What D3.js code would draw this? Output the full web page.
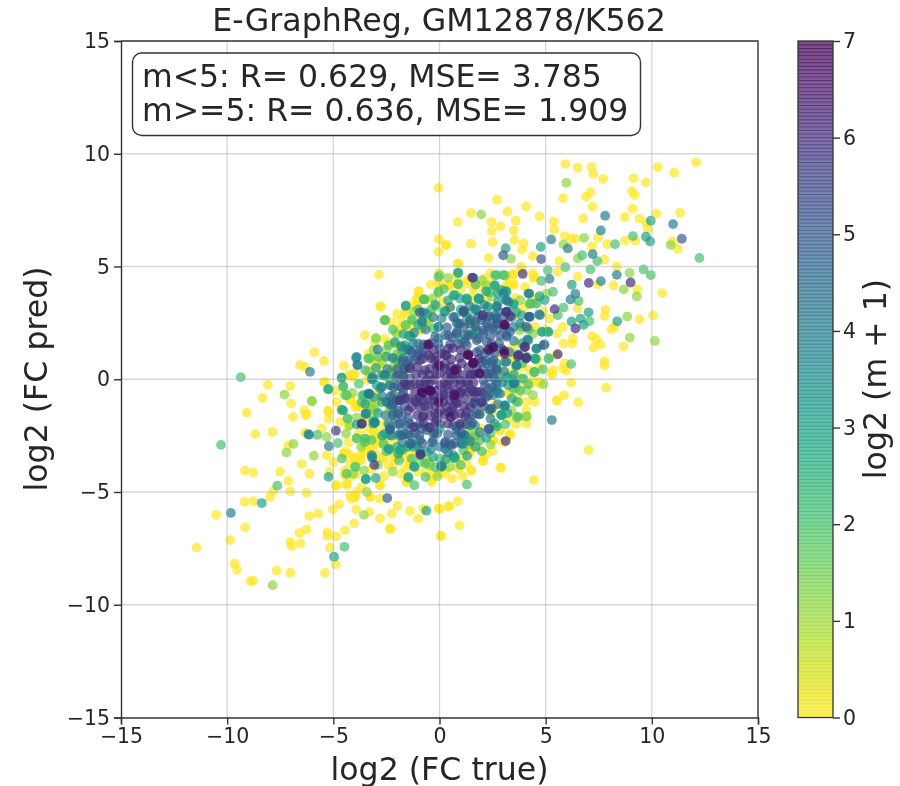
<!DOCTYPE html>
<html>
<head>
<meta charset="utf-8">
<script src="https://cdn.jsdelivr.net/npm/d3@7/dist/d3.min.js"></script>
<style>
  html, body { margin: 0; padding: 0; background: #fff; }
  svg { display: block; filter: blur(0.4px); }
  text { font-family: 'DejaVu Sans', sans-serif; fill: #262626; }
</style>
</head>
<body>
<svg id="scattersvg" width="900" height="786"></svg>
<script>
const chartTitle = 'E-GraphReg, GM12878/K562';
const xLabel = 'log2 (FC true)';
const yLabel = 'log2 (FC pred)';
const colorLabel = 'log2 (m + 1)';
const statLines = ['m<5: R= 0.629, MSE= 3.785', 'm>=5: R= 0.636, MSE= 1.909'];
const axisTicks = [-15, -10, -5, 0, 5, 10, 15];
const colorTicks = [0, 1, 2, 3, 4, 5, 6, 7];

// log2(m + 1) of each group of points below
const levels = [0, 1.2, 2, 3, 4, 5, 6, 6.8];

// [log2 FC true, log2 FC pred]
const pts0 = [
  [5.92,9.54],[6.51,9.38],[7.16,9.41],[7.24,9.11],[7.71,8.88],[9.14,8.91],[9.72,8.73],[10.28,9.41],[11.05,9.16],[12.09,9.62],
  [5.82,8.03],[6.91,8.09],[7.10,8.30],[9.06,8.34],[9.20,8.17],[7.21,7.65],[9.09,7.57],[8.73,7.19],[6.77,7.13],[10.22,7.34],
  [11.33,7.38],[9.42,7.12],[9.76,6.91],[9.81,6.67],[2.70,7.96],[3.20,7.44],[4.08,7.66],[1.48,7.37],[0.86,6.98],[2.45,6.97],
  [2.87,6.78],[2.46,6.57],[3.59,7.03],[3.49,6.60],[4.71,7.23],[5.38,7.00],[5.40,6.64],[1.48,6.01],[0.31,5.95],[2.50,6.09],
  [3.53,6.17],[3.96,6.02],[3.89,5.75],[2.32,5.38],[4.40,5.46],[5.65,5.24],[6.20,6.23],[6.39,6.24],[5.89,6.35],[7.46,6.27],
  [7.90,5.98],[8.74,6.15],[9.22,6.14],[10.96,6.11],[11.22,5.78],[7.19,5.89],[7.77,5.31],[0.86,5.13],[8.35,5.00],[8.19,4.17],
  [7.46,4.20],[9.31,3.99],[10.49,3.82],[10.05,2.83],[9.42,2.66],[8.10,2.22],[8.24,2.32],[7.77,2.80],[7.82,3.09],[8.67,1.45],
  [7.25,1.41],[7.57,1.54],[7.77,0.80],[7.77,0.61],[7.19,1.91],[7.38,1.78],[6.28,1.80],[6.25,1.58],[5.84,1.58],[5.53,2.03],
  [5.18,2.69],[5.81,2.32],[6.51,3.14],[6.51,4.54],[5.57,4.76],[4.40,4.69],[3.85,4.99],[4.47,4.54],[3.45,4.66],[3.30,4.25],
  [1.73,4.22],[1.33,4.39],[0.86,4.32],[0.47,4.13],[5.34,0.40],[5.89,0.70],[5.49,1.07],[5.81,0.47],
  [6.20,-0.16],[7.85,-0.37],[5.87,-0.71],[5.53,-0.96],[6.53,-1.02],[7.02,-3.14],[4.44,-4.47],[2.86,-3.92],[2.04,-3.62],[1.49,-4.07],
  [0.86,-3.92],[1.41,-3.27],[2.51,-2.74],[3.30,-2.49],[2.83,-2.29],[3.22,-1.79],[4.08,-1.41],[3.25,-0.61],[0.86,-5.41],[0.47,-5.64],
  [0.00,-5.74],[0.94,-6.48],[0.08,-6.95],[5.31,0.22],[5.97,0.37],[1.57,-2.63],[1.49,-2.93],[1.10,-3.45],[0.31,-3.52],[1.96,-2.19],
  [2.43,-1.52],[2.90,0.18],[3.61,0.22],[3.38,0.33],[4.71,-0.19],[4.40,-0.04],
  [-8.09,-0.25],[-7.03,-0.30],[-8.33,-0.83],[-6.99,-1.08],[-9.08,-1.48],[-6.38,-1.38],[-6.30,-1.61],[-6.90,-1.67],[-8.67,-2.43],[-7.87,-2.34],
  [-6.33,-2.37],[-7.12,-2.93],[-6.49,-3.76],[-9.16,-4.05],[-8.77,-4.14],[-7.51,-4.10],[-6.13,-4.19],[-7.12,-4.51],[-7.03,-4.97],[-6.27,-5.04],
  [-7.83,-4.96],[-7.98,-5.22],[-9.19,-5.44],[-8.77,-5.41],[-10.51,-6.01],[-9.16,-6.57],[-11.44,-7.46],[-9.86,-7.13],[-9.65,-8.18],[-9.54,-8.45],
  [-8.91,-8.96],[-8.77,-8.93],[-7.67,-8.49],[-7.03,-8.59],[-5.39,-8.59],[-6.13,-6.07],[-5.71,-5.96],[-6.60,-6.82],[-6.26,-6.66],[-7.03,-7.23],
  [-6.96,-7.40],[-6.54,-7.28],[-5.28,-6.95],[-5.28,-6.79],[-4.87,-6.97],[-5.16,-7.47],[-4.45,-6.69],[-4.03,-6.39],[-5.03,-5.77],[-4.72,-5.55],
  [-3.93,-5.77],[-3.30,-5.89],[-2.80,-6.17],[-2.25,-5.96],[-1.98,-5.61],[-1.39,-5.84],[-1.00,-6.18],[-2.33,-6.64],[-0.05,-5.74],[0.05,-6.95],
  [0.41,-5.64],[-0.76,-5.74],[-4.89,-8.21],[-2.80,-5.30],[-3.27,-5.22],[-4.22,-5.15],[-3.99,-5.22],[-4.37,-4.70],[-4.89,-4.72],[-4.21,-4.33],
  [-4.45,-4.26],[-2.80,-4.70],[-5.19,-4.11],[-5.31,-3.37],[-5.00,-3.67],[-4.45,-3.30],[-4.00,-3.52],[-3.53,-3.22],[-3.70,-3.59],[-2.18,-3.82],
  [-2.00,-3.52],[-2.64,-3.52],[-2.87,-2.78],[-2.73,-2.56],[-3.51,-3.08],[-3.90,-1.15],[-3.66,-1.23],[-5.23,-1.45],[-5.23,-1.75],[-4.68,-1.89],
  [-5.55,-2.19],[-5.39,-0.12],[-4.14,0.10],[-3.99,0.25],[-3.20,0.33],[-4.21,-0.86],[-0.37,-4.56],[-0.03,-4.19],[-1.39,-3.82],[-1.55,-4.56],
  [-3.51,1.95],[-5.89,1.20],[-5.44,0.81],[-6.33,0.55],[-6.57,0.62],[-2.41,1.61],[-2.14,1.58],[-4.06,0.18],[-4.29,0.18],[-3.35,1.14],
  [-2.87,0.84],[-2.57,1.02],[-3.35,0.40],[-5.44,-0.12],[-4.18,-0.86],[-6.25,-1.52],[-3.87,-1.15],[-5.25,-1.38],[-4.84,-1.01],
  [-0.04,8.49],[-0.04,6.21],[0.31,5.95],[-0.04,5.65],[-2.85,4.64],[-0.05,4.69],[0.42,4.17],[-0.98,3.91],[-0.05,4.25],[-0.05,3.80],
  [-2.78,3.24],[-1.61,2.99],[-1.07,3.58],[-1.07,3.28],[-2.25,2.53],[-1.83,2.29],[-1.54,2.40],[-1.30,2.40],[0.18,3.43],
  [-0.99,3.88],[-0.99,3.58],[-1.62,2.91],[-1.86,2.25],[-3.04,1.58],[-2.41,1.58],[-2.17,1.58],[-3.43,-0.04],
  [-3.43,-1.15],[-3.20,-1.15],[-3.27,-3.00],[-2.96,-2.86],[-2.33,-2.86],[1.36,-3.15],[2.07,-3.52],[1.75,-2.56],[2.53,-2.71],[3.32,-2.41],
  [4.10,-1.97],[3.24,-0.64],[3.71,-0.64],[4.10,-1.01],[0.49,4.17],[1.28,4.25],[1.99,4.10],[3.16,4.17],[3.48,4.17],[2.46,4.25],
  [1.51,3.51],[0.02,4.25],[0.02,3.95],[-0.53,3.51],
  [-3.12,-2.56],[-2.80,-2.71],[-2.65,-2.93],[-3.43,-3.08],[-2.17,-3.45],[-1.94,-3.45],[-2.41,-3.82],[-3.12,-2.26],[-3.43,-2.71],[-3.67,-3.37],
  [-3.90,-3.45],[-4.45,-4.19],[-4.37,-4.63],[-4.84,-4.70],[-4.29,-3.30],[-4.53,-3.30],[-2.80,-4.70],[-1.55,-4.56],[-1.62,-3.96],[-0.37,-4.48],
  [-1.39,-3.59],[-4.14,-5.30],[-3.98,-5.22],[-3.67,-4.78],[-3.27,-5.22],[-3.90,-5.00],[-2.33,-6.63],
  [-3.60,-1.90],[-3.20,-1.70],[-2.90,-2.30],[-3.40,-2.20],[-2.60,-2.00],[-2.30,-3.10],[-2.90,-3.40],[-2.00,-2.60],[-1.70,-3.30],[-3.80,-2.40],
  [2.40,-0.60],[3.00,-1.20],[2.60,-2.10],[1.80,-3.00],[3.40,0.90],[2.90,1.10],[3.70,1.60],[4.60,0.90],[4.20,2.30],[4.90,3.00],
  [1.60,3.80],[2.20,3.60],[3.60,3.60],[4.00,3.20],[-1.60,1.40],[-2.10,2.10],[-2.70,0.20],[-3.00,-0.70],[-2.40,-1.40],[0.80,-3.60],
  [-0.60,-3.60],[0.30,-4.00],[1.10,-4.30],[-1.00,-4.10],
  [-1.00,3.43],[-1.04,2.99],[-2.77,3.21],[-1.39,2.17],[-0.92,2.17],[-0.53,2.47],[-2.65,0.99],[-2.96,0.70],[-4.14,0.18],[-2.25,0.40],
  [0.89,5.13],[0.49,4.17],[1.59,4.10],[2.14,4.47],[3.48,4.66],[3.48,4.25],[2.22,3.88],[3.87,4.84],[4.42,4.47],[4.03,4.10],
  [3.63,2.91],[4.50,2.32],[3.40,1.36],[3.47,0.84],[3.95,0.55],[2.85,0.55],[4.26,0.40],[5.28,0.25],[5.52,-0.93],[4.73,-0.12],
  [4.34,-0.19],[2.61,-1.15],[2.46,-1.38],[2.53,-2.71],[3.32,-2.46],[2.85,-2.26],[2.06,-3.64],[2.91,-3.93],[1.51,-4.04],[0.89,-3.96],
  [1.59,-3.00],[1.44,-3.22],[1.51,-2.41],[-4.22,-0.93],[-4.45,-0.71],[-3.82,-1.23],[-3.98,-1.23],[-3.12,-2.41],[-3.12,-3.15],[-2.65,-3.45],
  [-2.10,-3.45],[-1.47,-3.59],[-1.39,-3.30],[-1.00,-3.30],[-0.29,-4.19],[0.26,-4.19],[-3.59,-2.86],[-3.74,-3.59],[-4.45,-3.22],[-4.45,-4.04],
  [-2.80,0.55],[-1.60,0.30],[-2.10,-0.70],[-1.80,2.60],[-0.40,3.00],[0.50,3.20],[1.00,4.00],[2.80,4.00],[2.50,-3.20],[3.90,-0.20],
  [-3.50,-1.70],[-2.90,-0.90],[-3.10,0.80],[-2.60,1.80],[-2.00,2.90],[-1.30,3.30],[-0.40,4.20],[0.80,4.60],[2.40,4.70],[4.60,3.60],
  [5.00,2.20],[4.70,0.50],[4.50,-1.00],[3.60,-2.00],[3.00,-2.80],[2.20,-3.30],[1.30,-3.80],[0.60,-4.40],[-0.60,-4.10],[-1.80,-4.20],
  [-2.60,-4.30],[-3.20,-4.00],[-3.90,-4.20],[-4.20,-3.70],[-4.30,-2.80],[-4.30,-2.10],[-4.60,-1.40],[-4.90,-0.50],[-4.50,0.60]
];
const pts1 = [
  [5.97,8.71],[1.96,7.31],[3.36,5.34],[6.81,6.27],[10.89,5.95],[5.84,5.98],[6.51,5.36],[8.95,4.72],[8.68,3.99],[9.29,3.67],
  [8.84,2.78],[8.96,1.85],[10.14,1.70],[4.24,3.33],[4.47,3.36],[0.66,3.70],[0.86,4.20],[3.09,4.59],[2.20,4.17],[3.77,2.17],
  [4.90,-0.22],[4.11,-0.49],[3.69,-0.99],[3.64,-1.72],[4.08,-1.67],[3.61,-0.38],[2.59,-1.97],[1.38,-2.88],[1.33,-2.26],
  [-7.30,-0.68],[-6.00,-0.98],[-6.88,-2.87],[-7.21,-3.25],[-5.92,-3.39],[-5.31,-2.56],[-4.40,-2.41],[-3.90,-2.60],[-3.51,-2.63],[-3.04,-1.38],
  [-4.45,-0.71],[-3.56,-6.01],[-7.86,-9.13],[-4.06,-4.19],[-3.94,-3.89],[-3.55,-4.04],[-3.42,-5.00],[-0.53,-3.74],
  [-2.99,1.83],[-3.34,0.92],[-4.33,-1.75],[-6.02,-0.96],[-2.02,1.14],
  [0.02,4.62],[-0.05,3.85],[-0.71,3.54],[-2.58,2.63],[-1.28,2.66],[-0.82,2.25],[-0.52,2.62],[-0.13,3.21],
  [-2.60,2.62],[-1.94,1.14],[-2.17,0.92],[-3.27,0.92],[-3.00,1.80],[-3.35,0.33],[-3.59,-0.78],[1.36,2.47],[1.44,1.95],[2.46,3.65],
  [4.34,3.36],[3.71,-1.00],[-1.80,1.50],[-2.30,0.40],
  [-1.94,0.70],[-2.17,0.55],[-1.86,0.03],[-2.10,1.58],[-0.68,2.54],[3.08,4.62],[5.05,3.80],[3.63,-1.67],[4.11,-1.64],[-0.53,-3.67],
  [-0.45,-3.82],[-0.92,-3.67],[0.49,-3.89],[-3.35,-0.86],[-4.22,-2.04],[-3.19,-1.23],[-3.04,-1.23],
  [-2.50,1.30],[-2.70,0.70],[-2.50,0.10],[-3.10,1.30],[-2.00,2.00],[-1.20,3.00],[-0.30,3.60],[0.40,4.50],[2.00,4.40],[3.80,3.50],
  [4.40,2.00],[4.40,-0.70],[3.40,-1.40],[2.40,-2.90],[-0.10,-4.30],[-2.20,-4.10],[-2.90,-3.80],[-3.70,-3.00],[-3.90,-1.70],[-4.10,-0.60]
];
const pts2 = [
  [8.27,5.99],[9.11,6.35],[6.72,5.50],[7.43,5.24],[5.93,4.97],[7.11,4.87],[9.61,4.87],[9.95,4.62],[12.24,5.38],[7.06,2.57],
  [6.55,3.48],[5.84,3.18],[5.57,2.84],[5.34,3.88],[5.10,4.84],[4.79,4.36],[0.86,4.72],[2.70,4.62],[2.59,4.14],[0.24,2.99],
  [1.70,3.09],[2.24,3.21],[2.35,3.85],[1.26,3.54],[4.87,2.10],[5.10,2.10],[5.15,0.92],[6.20,0.67],[4.47,0.33],[4.87,0.44],
  [3.61,0.59],[2.67,0.44],[4.52,0.90],[4.18,-0.22],[3.89,0.03],[3.20,0.04],[4.46,0.31],[1.29,-4.67],[1.88,-1.57],
  [-9.36,0.09],[-10.29,-2.91],[-7.64,-4.72],[-4.60,-3.52],[-4.79,-2.83],[-5.75,-2.47],[-4.33,-1.74],[-4.53,-0.30],[-3.63,-0.71],[-4.48,-7.43],
  [-1.74,-3.12],[-0.66,-4.34],[-1.46,-4.38],[-1.18,-4.70],[-1.31,-3.52],
  [-4.61,0.07],[-5.24,-0.44],[-2.30,-1.30],[-1.59,3.27],[0.26,2.99],[-0.29,2.25],
  [-0.05,3.88],[0.89,4.22],[0.65,3.73],[1.31,3.54],[-0.75,3.55],[-1.31,1.88],[1.67,2.54],[-1.78,1.21],[-2.02,0.84],[-2.33,-0.12],
  [-3.12,0.03],[3.63,-1.01],[3.71,-1.67],[2.61,-1.97],[1.67,-2.49],[1.91,-2.71],[1.12,-3.15],[0.73,-3.45],[-3.12,-1.82],[-3.51,-2.63],[-2.64,-2.86],
  [-1.94,0.84],[-2.17,0.18],[-2.33,-0.27],[-1.70,1.29],[-1.47,1.95],[-0.71,3.54],[-0.05,4.54],[1.36,2.91],[2.61,4.62],[2.99,4.62],
  [3.48,3.36],[4.26,3.36],[4.58,3.36],[3.87,2.32],[5.13,0.92],[4.53,0.89],[3.40,0.03],[3.95,0.03],[3.48,-0.41],[2.93,-1.60],
  [1.36,-2.63],[0.73,-3.49],[0.02,-3.52],[-0.68,-3.74],[-1.20,-2.85],[-1.78,-3.15],[-2.41,-2.49],[-3.90,-2.63],[-3.67,-1.01],[-3.55,-0.71],
  [-4.53,-0.34],[-4.37,-0.71],[-3.35,0.92],[-2.56,2.62],[-1.31,2.62],[-3.98,-3.89],[-3.51,-2.78],[-4.37,-4.19],
  [-1.00,3.10],[-0.40,3.10],[0.20,4.00],[1.70,4.20],[3.20,3.00],[4.20,2.20],[4.10,1.00],[3.90,0.70],[3.80,-0.50],[3.10,-2.00],
  [2.40,-2.40],[2.00,-3.20],[1.00,-3.80],[-0.20,-3.90],[-0.90,-3.40],[-1.90,-3.60],[-2.50,-3.20],[-3.20,-2.70],[-3.40,-1.50],[-3.80,-0.20],
  [-3.50,0.40],[-2.90,1.00],[-2.40,1.50],[-2.20,2.20],[-1.60,2.40]
];
const pts3 = [
  [9.72,6.32],[9.92,6.11],[9.95,7.03],[4.77,5.87],[8.37,2.57],[7.02,2.97],[6.22,2.56],[6.64,2.69],[6.78,2.41],[4.71,3.68],
  [4.95,3.51],[3.11,3.91],[2.75,3.80],[3.14,3.51],[1.85,3.55],[3.61,2.99],[4.55,1.36],[3.12,5.81],[6.23,4.19],[2.90,-1.57],
  [3.06,-1.20],[0.68,-3.49],[1.02,-2.83],[0.08,-3.89],[1.18,-2.49],[2.75,-0.61],
  [-8.37,-5.49],[-5.23,-4.33],[-4.61,-1.35],[-3.48,-1.55],[-3.04,-1.92],[-5.24,-0.44],[-3.16,0.00],[-0.62,-5.83],[-4.97,-7.87],[-3.18,-3.48],
  [-3.48,-4.44],[-3.00,-4.38],[-2.36,-3.12],[-1.94,-2.48],[-2.41,-1.08],[-2.80,-0.41],[-1.18,-3.89],[-1.23,-3.00],
  [-3.93,0.95],[-3.19,0.00],[-2.61,0.18],[-2.75,-0.37],[-2.49,-1.01],[-3.09,-1.89],[-6.18,-2.44],
  [-0.82,2.59],[-1.39,1.92],[-0.05,2.32],
  [-1.62,1.51],[-3.12,-1.97],[-2.41,-3.08],[-1.94,-3.30],[1.67,3.14],[1.88,3.58],[0.97,3.58],[2.93,3.95],
  [2.53,2.69],[1.51,2.03],[2.22,0.84],[2.69,-0.34],[3.08,-1.15],[2.92,-1.60],[0.65,-3.37],[1.04,-2.56],[0.02,-2.19],
  [0.89,4.72],[-1.59,3.25],[-1.55,1.36],[0.73,3.73],[1.28,3.58],[1.83,3.58],[2.30,3.21],[2.77,3.43],[3.16,3.88],[2.61,4.17],
  [1.28,2.77],[0.26,3.03],[0.73,2.77],[1.59,2.00],[1.04,1.73],[2.77,0.03],[3.16,0.10],[3.24,-0.27],[2.69,0.70],[3.63,0.62],
  [4.50,0.92],[4.81,2.10],[5.13,2.10],[3.87,2.84],[-2.96,-0.27],[-2.72,0.18],[-2.57,0.18],[-2.72,-1.01],[-2.17,-1.45],[-2.57,-2.41],
  [-1.86,-3.15],[-1.62,-2.41],[-1.08,-2.93],[-0.60,-3.22],[0.10,-3.82],[1.12,-2.86],[1.67,-2.04],[-4.53,-1.38],[-3.30,-0.67],[-4.61,0.07],
  [-3.16,-3.45],[-1.20,-3.86],[-1.47,-4.33],[-3.46,-4.41],
  [-0.60,2.90],[-0.20,3.30],[0.40,3.50],[1.00,3.10],[2.20,3.90],[3.50,3.30],[3.90,1.60],[3.70,1.10],[3.50,0.20],[3.40,-0.85],
  [3.20,-1.50],[2.70,-2.10],[2.20,-2.60],[1.70,-3.00],[1.30,-3.40],[0.30,-3.55],[-0.30,-3.45],[-0.90,-3.20],[-1.50,-3.00],[-2.00,-3.00],
  [-2.70,-2.50],[-2.90,-1.50],[-3.10,-0.80],[-3.00,0.50],[-2.50,1.00],[-2.10,1.65],[-1.70,2.00],[-1.00,2.40],[-3.50,-1.10],[-3.90,-2.00]
];
const pts4 = [
  [7.80,7.25],[7.60,6.60],[11.00,6.88],[5.26,6.20],[6.04,5.80],[7.21,5.55],[8.35,4.63],[7.60,4.35],[5.18,4.45],[4.19,3.80],
  [6.40,3.79],[6.17,3.54],[4.69,2.88],[4.95,1.54],[4.13,1.76],[2.70,3.24],[2.35,-1.35],[3.50,-0.16],[5.29,-1.81],
  [-9.83,-5.93],[-5.21,-2.97],[-6.14,-2.46],[-3.30,-0.65],[-6.10,0.33],[-2.57,0.18],[-2.33,-2.24],[0.10,-3.86],
  [-2.91,1.32],[-3.87,0.65],[-3.32,-0.64],[-2.02,-0.93],[-0.76,2.97],
  [0.81,2.47],[1.20,1.95],[1.75,2.17],[2.69,3.21],[3.16,3.51],[2.69,2.17],[3.16,1.88],[2.92,1.36],[3.16,0.77],[2.69,0.47],
  [3.63,0.62],[-1.70,0.92],[-1.23,1.58],[-1.39,1.29],[-2.72,-0.34],[-1.70,0.10],[-2.17,-0.71],[-1.86,-1.97],[-0.21,-2.34],[0.81,-2.26],
  [1.44,-2.04],[1.67,-1.01],[2.69,-0.12],[2.38,0.25],[2.53,-0.71],[0.26,-3.08],[-0.83,2.54],[-0.05,2.32],[-0.05,1.80],[3.51,-0.19],
  [4.26,2.77],[-3.19,-3.37],[1.20,-2.49],[1.04,-2.86],
  [0.26,1.95],[0.89,2.47],[1.44,2.47],[1.75,3.06],[2.22,2.77],[2.61,2.84],[3.01,3.80],[3.25,3.43],[3.48,2.32],[3.79,2.47],
  [-1.00,1.58],[-1.47,1.29],[-1.55,0.70],[-1.94,0.18],[-2.33,-0.27],[-2.49,-1.00],[-2.10,-1.75],[-2.33,-2.12],[-1.86,-2.41],[-1.39,-2.49],
  [-0.92,-2.71],[-0.29,-2.71],[0.02,-3.00],[0.49,-2.86],[2.38,-1.33],[2.69,-0.49],[2.85,-0.64],[3.08,0.77],[3.55,-0.15],
  [4.58,1.36],[4.18,1.73],[4.73,2.84],[4.23,2.77],[4.23,3.80],[3.08,-1.18],[-3.35,-0.64],[-3.90,0.99],[-3.86,0.62],[-3.16,0.10],
  [-2.41,-1.97],[-3.48,-1.52],[-3.04,-1.92],
  [0.10,2.70],[0.50,3.20],[1.40,3.25],[2.10,3.30],[2.80,3.00],[3.40,2.75],[3.50,1.70],[3.30,1.20],[3.05,0.35],[2.95,-0.15],
  [2.75,-1.10],[2.40,-1.75],[1.90,-2.35],[1.45,-2.75],[0.40,-3.25],[-0.40,-3.10],[-1.30,-2.85],[-1.75,-2.80],[-2.25,-2.50],[-2.55,-1.60],
  [-2.70,-0.75],[-2.45,0.45],[-2.20,0.95],[-1.80,1.45],[-1.20,2.05],[-0.65,2.20],[-0.30,2.75]
];
const pts5 = [
  [11.41,6.23],[3.00,5.50],[4.79,5.33],[4.21,2.78],[2.75,2.47],[1.13,2.99],[2.31,-2.22],[-2.46,-5.27],[-3.67,-1.98],[-2.33,-2.22],
  [0.42,1.95],[-0.92,2.96],[4.10,2.32],[2.03,2.84],[1.15,3.03],[2.33,-2.19],
  [-1.70,0.47],[-2.02,-0.93],[-1.47,0.84],[-1.08,0.99],[-0.76,1.21],[-0.05,1.58],[0.97,2.47],[0.81,2.03],[1.28,1.51],
  [1.75,1.73],[2.06,2.03],[2.30,2.32],[2.69,2.69],[1.44,2.62],[2.22,0.70],[2.69,0.40],[2.06,-0.04],[2.30,-0.71],[2.46,-1.30],
  [1.75,-1.52],[1.36,-1.75],[0.81,-2.12],[0.26,-2.86],[0.57,-2.93],[-0.84,-2.19],[-1.39,-1.97],[-2.17,-1.08],[-1.94,-1.52],
  [-1.15,-2.41],[-1.78,-2.49],[-1.39,-2.86],[-0.91,-3.30],
  [-1.39,0.55],[-1.62,0.47],[-0.92,0.84],[-0.92,1.29],[0.02,1.36],[0.81,2.10],[0.89,1.58],[1.20,1.66],[1.36,1.95],[1.83,1.80],
  [2.06,2.17],[1.98,2.62],[2.22,2.47],[2.69,2.47],[3.32,2.10],[2.22,1.66],[1.91,1.29],[2.14,1.14],[2.54,0.84],[2.22,0.25],
  [2.14,-0.27],[2.06,-0.64],[1.98,-1.01],[1.59,-1.08],[0.97,-2.04],[0.65,-2.04],[0.02,-1.97],[-0.53,-2.12],[-1.15,-2.12],[-1.47,-1.75],
  [-1.94,-1.38],[-1.86,-0.93],[-1.70,-0.56],[-1.39,0.03],[-1.78,-0.34],[-0.92,-1.97],[-0.29,-2.41],[0.26,-2.78],[-0.60,-2.26],[0.81,-2.49],
  [1.28,-1.45],[2.30,-0.41],[3.16,1.95],[4.89,1.51],[1.59,4.50],[1.12,2.99],
  [0.65,2.75],[1.80,2.75],[2.35,2.80],[3.00,2.75],[0.35,2.30],[1.15,2.30],[1.70,2.35],[2.50,2.25],[3.05,2.30],[-0.20,1.90],
  [0.60,1.85],[2.40,1.90],[2.85,1.95],[-0.75,1.55],[-0.40,1.60],[0.50,1.55],[2.45,1.55],[2.80,1.60],[-1.30,1.20],[-1.00,1.15],
  [1.75,1.20],[2.35,1.25],[2.60,1.15],[-1.75,0.80],[-1.20,0.85],[2.00,0.80],[2.45,0.75],[-2.00,0.45],[2.05,0.45],[2.45,0.40],
  [-2.05,0.10],[-1.70,0.15],[2.30,0.10],[2.55,0.05],[-2.15,-0.35],[-1.95,-0.30],[2.50,-0.35],[-2.30,-0.75],[-1.75,-0.70],[2.20,-0.80],
  [-2.25,-1.15],[-1.65,-1.20],[1.75,-1.15],[2.10,-1.20],[-2.20,-1.60],[-1.75,-1.65],[1.55,-1.60],[1.90,-1.55],[-1.95,-2.00],[-1.60,-2.05],
  [1.25,-2.00],[1.55,-1.95],[-1.50,-2.45],[-0.95,-2.50],[-0.10,-2.40],[0.40,-2.45],[1.05,-2.40],[-0.80,-2.85],[-0.35,-2.80],[0.70,-2.85]
];
const pts6 = [
  [7.03,4.27],[9.00,4.29],[1.54,4.51],[3.92,4.67],[5.42,3.11],[6.40,2.25],[5.57,1.11],[4.08,0.92],[3.74,1.07],[4.00,1.43],
  [2.51,1.39],[3.14,2.99],[2.04,2.84],[3.12,-2.74],[-4.88,-2.28],[-3.66,-1.97],[-3.07,-3.80],[-0.89,-3.34],
  [4.03,1.43],[3.32,2.80],[3.16,2.99],[4.10,0.96],[3.69,1.02],
  [-0.45,0.47],[-0.13,0.55],[0.26,0.47],[0.49,0.33],[0.81,0.40],[0.02,0.25],[-0.45,0.18],[0.34,0.10],[0.97,-0.04],[1.44,0.18],
  [1.91,0.25],[-0.13,0.99],[0.26,1.07],[0.42,1.36],[-0.53,1.07],[-1.39,0.47],[-1.39,-0.27],[-0.92,-0.19],[-0.45,-0.12],[0.18,-0.19],
  [0.65,-0.64],[1.59,-0.56],[1.91,-0.56],[-1.15,-0.93],[-0.76,-0.93],[-0.29,-0.71],[0.18,-0.71],[0.49,-0.93],[0.97,-0.56],[-1.86,-0.93],
  [-1.47,-1.38],[-0.76,-1.60],[-0.45,-2.14],[-1.23,-2.12],[-0.21,-1.52],[0.42,-1.45],[0.97,-1.97],[1.44,-1.23],[1.99,-1.01],[0.81,-1.01],
  [1.28,-0.12],[0.02,-1.38],
  [-0.53,1.51],[0.34,1.07],[0.26,0.70],[0.81,0.47],[-0.45,-0.49],[0.73,0.18],[1.36,1.07],[1.59,0.70],[1.51,0.18],[0.65,-0.71],
  [0.73,-0.49],[-0.79,-1.67],[-0.05,-1.52],[-1.08,-1.01],[1.75,-0.56],[1.36,-0.56],[0.97,-0.64],[0.34,-1.23],[0.81,-1.08],[-0.29,-0.93],
  [0.18,-0.64],[0.34,-0.27],[-0.60,-0.04],[-1.15,-0.19],[-1.15,-0.56],[-1.55,-0.27],[-1.62,-0.86],[-0.92,-1.23],[-0.53,-1.23],[0.97,-1.52],
  [-0.21,0.84],[0.10,1.14],[-0.68,0.40],[1.04,0.70],[1.12,0.18],[0.02,-0.27],[-0.29,-0.04],[-0.84,-0.41],[0.49,-0.04],[0.97,-0.19],
  [-0.53,-0.86],[0.18,-1.01],[0.57,-1.38],[-0.13,-1.82],[-1.31,-1.23],[1.36,-0.19],
  [-0.30,1.30],[0.62,1.38],[1.00,1.30],[-0.80,0.90],[-0.40,0.92],[0.55,0.88],[0.95,0.95],[1.85,0.90],[-1.05,0.55],[0.05,0.58],
  [0.55,0.55],[1.35,0.52],[1.75,0.50],[-1.10,0.20],[-0.80,0.22],[-0.15,0.20],[0.60,0.15],[1.65,0.20],[-1.65,-0.15],[-0.70,-0.15],
  [0.70,-0.12],[1.60,-0.15],[-0.55,-0.45],[-0.10,-0.48],[0.40,-0.42],[1.15,-0.45],[1.55,-0.48],[-1.45,-0.85],[-0.95,-0.82],[0.00,-0.85],
  [0.70,-0.88],[1.20,-0.85],[1.65,-0.82],[-0.70,-1.20],[-0.20,-1.18],[0.65,-1.22],[1.15,-1.20],[-1.05,-1.60],[-0.45,-1.62],[0.25,-1.58],
  [0.70,-1.60],[1.20,-1.62],[-0.75,-1.95],[-0.20,-1.92],[0.40,-1.98]
];
const pts7 = [
  [3.06,1.14],[3.06,2.40],[1.57,0.72],[1.88,0.25],[1.33,1.07],[0.71,0.40],
  [-0.53,1.55],[1.36,1.11],[1.60,0.74],[2.30,1.32],[2.54,1.43],[3.08,2.43],[3.04,1.26],[-0.84,-0.59],[-0.40,-0.52],[-0.05,-1.01],[0.53,-1.67],
  [0.73,-0.71],[-0.79,-0.59],[-0.45,-0.49],[-0.05,0.62]
];

class scatterPlot {
  constructor(groups) {
    this.svg = d3.select('#scattersvg');
    this.groups = groups;
    this.xScale = d3.scaleLinear().domain([-15, 15]).range([121, 758]);
    this.yScale = d3.scaleLinear().domain([-15, 15]).range([717.5, 41]);
    this.cScale = d3.scaleLinear().domain([0, 7]).range([717.5, 41]);
    this.color = d => d3.interpolateViridis(1 - d / 7);
  }

  buildScatter() {
    this.groups.forEach((pts, i) => {
      this.svg
        .append('g')
        .selectAll('circle')
        .data(pts)
        .enter()
        .append('circle')
        .attr('cx', d => this.xScale(d[0]))
        .attr('cy', d => this.yScale(d[1]))
        .attr('r', 4.9)
        .attr('fill', this.color(levels[i]))
        .attr('opacity', 0.7);
    });
  }

  buildAxes() {
    // grid sits on top of the dots, as in the original
    var grid = this.svg.append('g').attr('stroke', '#b0b0b0').attr('stroke-opacity', 0.5).attr('stroke-width', 1.3);
    grid
      .selectAll('.gx')
      .data(axisTicks.slice(1, -1))
      .enter()
      .append('line')
      .attr('x1', d => this.xScale(d))
      .attr('x2', d => this.xScale(d))
      .attr('y1', this.yScale(-15))
      .attr('y2', this.yScale(15));
    grid
      .selectAll('.gy')
      .data(axisTicks.slice(1, -1))
      .enter()
      .append('line')
      .attr('y1', d => this.yScale(d))
      .attr('y2', d => this.yScale(d))
      .attr('x1', this.xScale(-15))
      .attr('x2', this.xScale(15));

    var xAxis = this.svg
      .append('g')
      .attr('transform', `translate(0, ${this.yScale(-15)})`)
      .call(d3.axisBottom(this.xScale).tickValues(axisTicks).tickSize(7).tickPadding(4));
    var yAxis = this.svg
      .append('g')
      .attr('transform', `translate(${this.xScale(-15)}, 0)`)
      .call(d3.axisLeft(this.yScale).tickValues(axisTicks).tickSize(7).tickPadding(4));
    [xAxis, yAxis].forEach(a => {
      a.attr('font-family', null).attr('font-size', null);
      a.selectAll('text').style('font-size', '20.5px');
      a.selectAll('path,line').attr('stroke', '#333').attr('stroke-width', 1.4);
    });

    // frame top and right
    this.svg
      .append('path')
      .attr('d', `M${this.xScale(-15)},${this.yScale(15)}H${this.xScale(15)}V${this.yScale(-15)}`)
      .attr('fill', 'none')
      .attr('stroke', '#333')
      .attr('stroke-width', 1.4);
  }

  buildStats() {
    this.svg
      .append('rect')
      .attr('x', 132.5)
      .attr('y', 53)
      .attr('width', 508)
      .attr('height', 82.5)
      .attr('rx', 9)
      .attr('fill', '#fff')
      .attr('fill-opacity', 0.9)
      .attr('stroke', '#333')
      .attr('stroke-width', 1.4);
    this.svg
      .selectAll('.stat')
      .data(statLines)
      .enter()
      .append('text')
      .attr('class', 'stat')
      .attr('x', 142)
      .attr('y', (d, i) => 87 + i * 34)
      .style('font-size', '31.5px')
      .text(d => d);
  }

  buildColorbar() {
    var bands = d3.range(190).map(i => (i * 7) / 190);
    var step = Math.abs(this.cScale(7 / 190) - this.cScale(0));
    this.svg
      .append('g')
      .selectAll('rect')
      .data(bands)
      .enter()
      .append('rect')
      .attr('x', 798)
      .attr('width', 35)
      .attr('y', d => this.cScale(d) - step)
      .attr('height', d => (d === 0 ? step : step + 0.9))
      .attr('fill', d => this.color(d + 3.5 / 190))
      .attr('opacity', 0.7);
    var axis = this.svg
      .append('g')
      .attr('transform', 'translate(833, 0)')
      .call(d3.axisRight(this.cScale).tickValues(colorTicks).tickSize(7).tickPadding(3).tickFormat(d3.format('d')));
    axis.attr('font-family', null).attr('font-size', null);
    axis.selectAll('text').style('font-size', '20.5px');
    axis.select('.domain').remove();
    axis.selectAll('line').attr('stroke', '#333').attr('stroke-width', 1.4);
    this.svg
      .append('rect')
      .attr('x', 798)
      .attr('y', 41)
      .attr('width', 35)
      .attr('height', 676.5)
      .attr('fill', 'none')
      .attr('stroke', '#333')
      .attr('stroke-width', 1.3);
  }

  buildLabels() {
    var add = (txt, size, transform) =>
      this.svg
        .append('text')
        .attr('text-anchor', 'middle')
        .attr('transform', transform)
        .style('font-size', size + 'px')
        .text(txt);
    add(chartTitle, 31.6, 'translate(439, 31)');
    add(xLabel, 31.6, 'translate(439.5, 780)');
    add(yLabel, 31.6, 'translate(47, 379) rotate(-90)');
    add(colorLabel, 31.6, 'translate(886, 379) rotate(-90)');
  }
}

var plot = new scatterPlot([pts0, pts1, pts2, pts3, pts4, pts5, pts6, pts7]);
plot.buildScatter();
plot.buildAxes();
plot.buildStats();
plot.buildColorbar();
plot.buildLabels();
</script>
</body>
</html>
